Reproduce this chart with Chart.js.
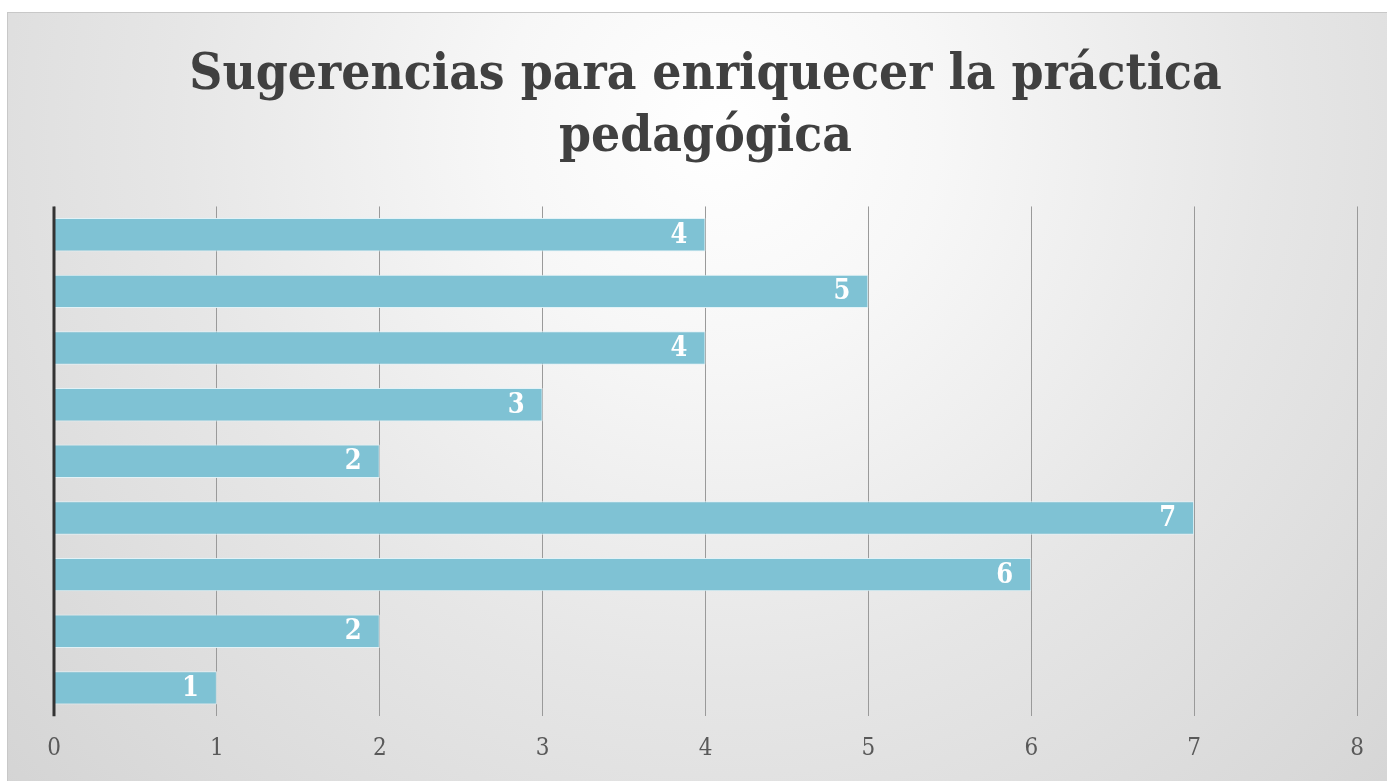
<!DOCTYPE html>
<html><head><meta charset="utf-8">
<script src="https://cdn.jsdelivr.net/npm/chart.js@4"></script>
<style>html,body{margin:0;padding:0;background:#fff;overflow:hidden}</style>
</head><body>
<canvas id="c" width="1387" height="781"></canvas>
<script>
const titleLines = ['Sugerencias para enriquecer la práctica', 'pedagógica'];
const categories = ['Sugerencia 1','Sugerencia 2','Sugerencia 3','Sugerencia 4','Sugerencia 5','Sugerencia 6','Sugerencia 7','Sugerencia 8','Sugerencia 9'];
const values = [4, 5, 4, 3, 2, 7, 6, 2, 1];
const xTicks = [0, 1, 2, 3, 4, 5, 6, 7, 8];

const SERIF = '"DejaVu Serif Condensed", "DejaVu Serif", serif';

const bgPlugin = {
  id: 'bg',
  beforeDraw(chart) {
    const ctx = chart.ctx;
    const W = chart.width, H = chart.height;
    ctx.save();
    ctx.fillStyle = '#ffffff';
    ctx.fillRect(0, 0, W, H);
    const g = ctx.createRadialGradient(720, 130, 0, 720, 130, 1000);
    g.addColorStop(0, '#ffffff');
    g.addColorStop(0.22, '#f7f7f7');
    g.addColorStop(0.55, '#e6e6e6');
    g.addColorStop(1, '#d3d3d3');
    ctx.fillStyle = g;
    ctx.fillRect(7.5, 12.5, W, H);
    ctx.strokeStyle = '#c8c8c8';
    ctx.lineWidth = 1;
    ctx.strokeRect(7.5, 12.5, W, H);
    ctx.restore();
  }
};

const labelPlugin = {
  id: 'barLabels',
  afterDatasetsDraw(chart) {
    const ctx = chart.ctx;
    const meta = chart.getDatasetMeta(0);
    const xs = chart.scales.x;
    const area = chart.chartArea;
    ctx.save();
    // axis line at value 0 drawn on top of bars
    const x0 = xs.getPixelForValue(0);
    ctx.strokeStyle = '#333333';
    ctx.lineWidth = 3;
    ctx.beginPath();
    ctx.moveTo(x0, area.top);
    ctx.lineTo(x0, area.bottom);
    ctx.stroke();
    ctx.fillStyle = '#ffffff';
    ctx.font = 'bold 27px ' + SERIF;
    ctx.textAlign = 'right';
    ctx.textBaseline = 'middle';
    meta.data.forEach((bar, i) => {
      ctx.fillText(String(values[i]), bar.x - 18, bar.y + 1);
    });
    ctx.restore();
  }
};

new Chart(document.getElementById('c'), {
  type: 'bar',
  data: {
    labels: categories,
    datasets: [{
      data: values,
      backgroundColor: '#7fc2d4',
      borderColor: 'rgba(225,242,248,0.95)',
      borderWidth: 1,
      borderSkipped: 'start',
      barPercentage: 0.59,
      categoryPercentage: 1.0
    }]
  },
  options: {
    indexAxis: 'y',
    responsive: false,
    animation: false,
    layout: { padding: { left: 54, right: 30, top: 14, bottom: 0 } },
    plugins: {
      legend: { display: false },
      tooltip: { enabled: false },
      title: {
        display: true,
        text: titleLines,
        color: '#404040',
        font: { family: SERIF, size: 51, weight: 'bold', lineHeight: 1.23 },
        padding: { top: 30, bottom: 37 }
      }
    },
    scales: {
      x: {
        min: 0, max: 8,
        afterBuildTicks(axis) { axis.ticks = xTicks.map(v => ({ value: v })); },
        grid: { color: '#9a9a9a', lineWidth: 1, drawTicks: false },
        border: { display: false },
        ticks: {
          color: '#595959',
          font: { family: SERIF, size: 24 },
          padding: 18
        }
      },
      y: {
        grid: { display: false, drawTicks: false },
        border: { display: false },
        ticks: { display: false }
      }
    }
  },
  plugins: [bgPlugin, labelPlugin]
});
</script>
</body></html>
